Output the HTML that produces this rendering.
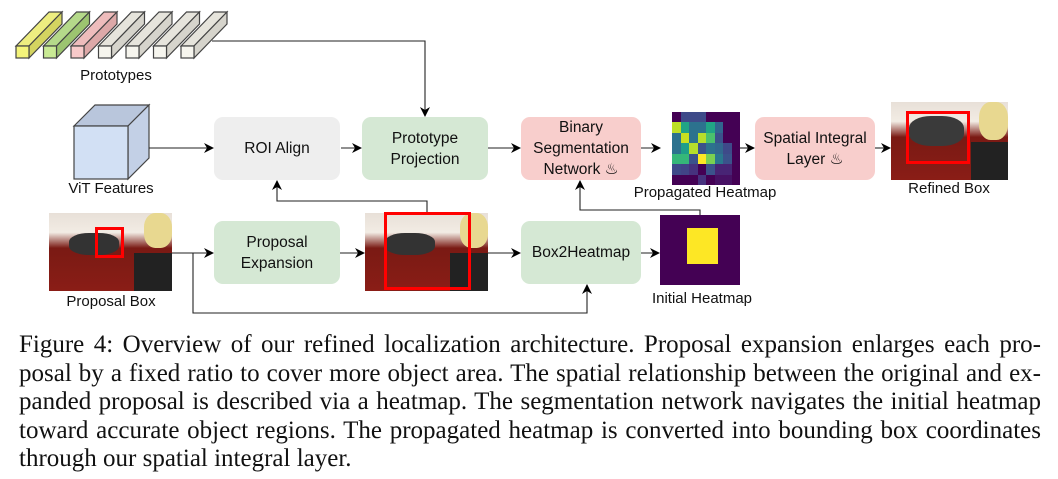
<!DOCTYPE html>
<html><head><meta charset="utf-8"><style>
body{margin:0;width:1058px;height:479px;background:#fff;position:relative;overflow:hidden;font-family:"Liberation Sans",sans-serif}
.b{position:absolute;border-radius:9px;display:flex;align-items:center;justify-content:center;text-align:center;font-size:15.5px;line-height:21px;color:#111}
.l{position:absolute;font-size:15px;color:#111;white-space:nowrap;transform:translateX(-50%)}
.cap{position:absolute;left:19px;width:1022px;top:331px;font-family:"Liberation Serif",serif;font-size:25px;line-height:28.6px;color:#111}
.cap div{text-align:justify;text-align-last:justify;white-space:nowrap;height:28.6px}
.img{position:absolute;overflow:hidden;background:linear-gradient(180deg,#e8e0d8 0%,#f2ece4 25%,#7a1a14 45%,#8a1d16 100%)}
</style></head><body>
<svg width="1058" height="330" style="position:absolute;left:0;top:0">
<defs><marker id="a" markerWidth="10" markerHeight="10" refX="9" refY="5" orient="auto" markerUnits="userSpaceOnUse"><path d="M0,0 L10,5 L0,10 L3,5z" fill="#000"/></marker></defs>
<g stroke="#444" stroke-width="1.2">
<polygon points="16,46 29,46 62,12 49,12" fill="#eded80"/><polygon points="29,46 29,58 62,24 62,12" fill="#d4d460"/><rect x="16" y="46" width="13" height="12" fill="#f4f47a"/>
<polygon points="43.5,46 56.5,46 89.5,12 76.5,12" fill="#b5d98a"/><polygon points="56.5,46 56.5,58 89.5,24 89.5,12" fill="#9cc470"/><rect x="43.5" y="46" width="13" height="12" fill="#c9ea94"/>
<polygon points="71,46 84,46 117,12 104,12" fill="#eebcbc"/><polygon points="84,46 84,58 117,24 117,12" fill="#dda8a8"/><rect x="71" y="46" width="13" height="12" fill="#f8caca"/>
<polygon points="98.5,46 111.5,46 144.5,12 131.5,12" fill="#e6e4dc"/><polygon points="111.5,46 111.5,58 144.5,24 144.5,12" fill="#d6d4cc"/><rect x="98.5" y="46" width="13" height="12" fill="#f6f5ee"/>
<polygon points="126,46 139,46 172,12 159,12" fill="#e6e4dc"/><polygon points="139,46 139,58 172,24 172,12" fill="#d6d4cc"/><rect x="126" y="46" width="13" height="12" fill="#f6f5ee"/>
<polygon points="153.5,46 166.5,46 199.5,12 186.5,12" fill="#e6e4dc"/><polygon points="166.5,46 166.5,58 199.5,24 199.5,12" fill="#d6d4cc"/><rect x="153.5" y="46" width="13" height="12" fill="#f6f5ee"/>
<polygon points="181,46 194,46 227,12 214,12" fill="#e6e4dc"/><polygon points="194,46 194,58 227,24 227,12" fill="#d6d4cc"/><rect x="181" y="46" width="13" height="12" fill="#f6f5ee"/>
<polygon points="74,126 95,105 149,105 128,126" fill="#b9c6dc"/><polygon points="128,126 149,105 149,158 128,179" fill="#c3d0e6"/><rect x="74" y="126" width="54" height="53" fill="#d2e0f4"/>
</g>
<g stroke="#222" stroke-width="1.1" fill="none" marker-end="url(#a)">
<path d="M212,41 H425 V116"/>
<path d="M149,148 H213"/><path d="M341,148 H361"/><path d="M488,148 H520"/><path d="M641,148 H660"/><path d="M739,148 H754"/><path d="M875,148 H890"/>
<path d="M172,253 H213"/><path d="M193,253 V313 H587 V285"/><path d="M340,253 H364"/><path d="M488,253 H520"/><path d="M641,253 H659"/>
<path d="M427,212 V201 H277 V181"/><path d="M700,215 V210 H580 V181"/>
</g>
<rect x="660" y="215" width="80" height="70" fill="#440154"/><rect x="687" y="228" width="31" height="36" fill="#fde725"/>
</svg>
<div class="b" style="left:214px;top:117px;width:126px;height:63px;background:#eeeeee">ROI Align</div>
<div class="b" style="left:362px;top:117px;width:126px;height:63px;background:#d5e8d4">Prototype<br>Projection</div>
<div class="b" style="left:521px;top:117px;width:120px;height:63px;background:#f8cecc">Binary<br>Segmentation<br>Network ♨</div>
<div class="b" style="left:755px;top:117px;width:120px;height:63px;background:#f8cecc">Spatial Integral<br>Layer ♨</div>
<div class="b" style="left:214px;top:221px;width:126px;height:63px;background:#d5e8d4">Proposal<br>Expansion</div>
<div class="b" style="left:521px;top:221px;width:120px;height:63px;background:#d5e8d4">Box2Heatmap</div>
<div class="img" style="left:49px;top:213px;width:123px;height:78px"><div style="position:absolute;left:20px;top:20px;width:50px;height:22px;background:#333;border-radius:40%"></div><div style="position:absolute;left:95px;top:0;width:28px;height:35px;background:#e8d890;border-radius:40%"></div><div style="position:absolute;left:85px;top:40px;width:38px;height:38px;background:#222"></div><div style="position:absolute;left:46px;top:14px;width:29px;height:31px;border:3px solid #f00;box-sizing:border-box"></div></div>
<div class="img" style="left:365px;top:213px;width:123px;height:78px"><div style="position:absolute;left:20px;top:20px;width:50px;height:22px;background:#333;border-radius:40%"></div><div style="position:absolute;left:95px;top:0;width:28px;height:35px;background:#e8d890;border-radius:40%"></div><div style="position:absolute;left:85px;top:40px;width:38px;height:38px;background:#222"></div></div>
<div style="position:absolute;left:384px;top:212px;width:87px;height:78px;border:3px solid #f00;box-sizing:border-box"></div>
<div class="img" style="left:891px;top:102px;width:117px;height:78px"><div style="position:absolute;left:18px;top:14px;width:55px;height:30px;background:#3a3a3a;border-radius:40%"></div><div style="position:absolute;left:88px;top:0;width:29px;height:38px;background:#e8d890;border-radius:40%"></div><div style="position:absolute;left:80px;top:40px;width:37px;height:38px;background:#222"></div><div style="position:absolute;left:15px;top:9px;width:64px;height:53px;border:3px solid #f00;box-sizing:border-box"></div></div>
<div style="position:absolute;left:672px;top:112px;width:68px;height:73px;display:grid;grid-template-columns:repeat(8,1fr);grid-template-rows:repeat(7,1fr)">
<i style="background:#440154"></i><i style="background:#3e4a89"></i><i style="background:#3e4a89"></i><i style="background:#3e4a89"></i><i style="background:#440154"></i><i style="background:#440154"></i><i style="background:#440154"></i><i style="background:#440154"></i>
<i style="background:#bddf26"></i><i style="background:#21a585"></i><i style="background:#2c728e"></i><i style="background:#2c728e"></i><i style="background:#21a585"></i><i style="background:#31668e"></i><i style="background:#440154"></i><i style="background:#440154"></i>
<i style="background:#2c728e"></i><i style="background:#c8e020"></i><i style="background:#2c728e"></i><i style="background:#b5de2b"></i><i style="background:#4ac16d"></i><i style="background:#3b528b"></i><i style="background:#440154"></i><i style="background:#440154"></i>
<i style="background:#2c728e"></i><i style="background:#1f9e89"></i><i style="background:#b5de2b"></i><i style="background:#3b528b"></i><i style="background:#2c728e"></i><i style="background:#31688e"></i><i style="background:#3e4a89"></i><i style="background:#440154"></i>
<i style="background:#35b779"></i><i style="background:#35b779"></i><i style="background:#3b528b"></i><i style="background:#fde725"></i><i style="background:#7ad151"></i><i style="background:#2a788e"></i><i style="background:#3b528b"></i><i style="background:#440154"></i>
<i style="background:#3e4a89"></i><i style="background:#414487"></i><i style="background:#46327e"></i><i style="background:#440154"></i><i style="background:#3b528b"></i><i style="background:#482475"></i><i style="background:#482475"></i><i style="background:#440154"></i>
<i style="background:#440154"></i><i style="background:#440154"></i><i style="background:#440154"></i><i style="background:#46327e"></i><i style="background:#440154"></i><i style="background:#471164"></i><i style="background:#471164"></i><i style="background:#440154"></i>
</div>
<div class="l" style="left:116px;top:67px">Prototypes</div>
<div class="l" style="left:111px;top:180px">ViT Features</div>
<div class="l" style="left:111px;top:293px">Proposal Box</div>
<div class="l" style="left:705px;top:184px">Propagated Heatmap</div>
<div class="l" style="left:702px;top:290px">Initial Heatmap</div>
<div class="l" style="left:949px;top:180px">Refined Box</div>
<div class="cap">
<div>Figure 4: Overview of our refined localization architecture. Proposal expansion enlarges each pro-</div>
<div>posal by a fixed ratio to cover more object area. The spatial relationship between the original and ex-</div>
<div>panded proposal is described via a heatmap. The segmentation network navigates the initial heatmap</div>
<div>toward accurate object regions. The propagated heatmap is converted into bounding box coordinates</div>
<div style="text-align-last:left">through our spatial integral layer.</div>
</div>
</body></html>
